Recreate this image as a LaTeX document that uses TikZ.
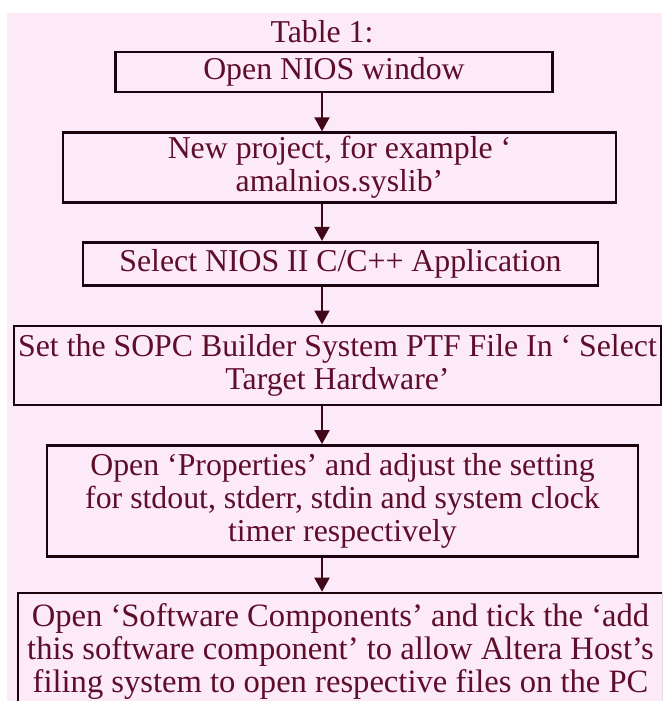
\documentclass[tikz,border=0pt]{standalone}
\usepackage{fontspec}
\setmainfont{Liberation Serif}
\usetikzlibrary{positioning}
\usetikzlibrary{arrows.meta}
\definecolor{bgpink}{RGB}{252,234,248}
\definecolor{boxline}{RGB}{28,4,14}
\definecolor{steptext}{RGB}{95,14,42}
\definecolor{flowarrow}{RGB}{65,6,24}

\begin{document}
\begin{tikzpicture}[x=1pt,y=1pt,
    B/.style={draw=boxline, line width=2.6pt, inner sep=0pt, align=center,
      text=steptext, font=\fontsize{31.8}{33}\selectfont},
    A/.style={-{Triangle[width=15pt,length=14pt]}, draw=flowarrow, fill=flowarrow, line width=2pt}]
  \useasboundingbox (0,0) rectangle (662,-701);
  \clip (0,0) rectangle (662,-701);
  \fill[white] (0,0) rectangle (662,-701);
  \fill[bgpink] (7,-13) rectangle (662,-701);

  \node[anchor=base, text=steptext, font=\fontsize{31.8}{33}\selectfont] (tbl) at (322,-43) {Table 1:};
  \node[B, minimum width=437pt, minimum height=40pt] (open) at (334,-72) {Open NIOS window};
  \node[B, minimum width=553pt, minimum height=70pt, below=38pt of open, xshift=5.5pt] (proj)
    {New project, for example ‘\\ amalnios.syslib’};
  \node[B, minimum width=515pt, minimum height=43pt, below=37pt of proj, xshift=1pt] (app)
    {Select NIOS II C/C++ Application};
  \node[B, minimum width=647pt, minimum height=79pt, below=38pt of app, xshift=-3pt] (ptf)
    {Set the SOPC Builder System PTF File In ‘ Select\\ Target Hardware’};
  \node[B, minimum width=591pt, minimum height=111pt, below=38pt of ptf, xshift=5pt] (prop)
    {Open ‘Properties’ and adjust the setting\\ for stdout, stderr, stdin and system clock\\ timer respectively};
  \node[B, font=\fontsize{32.6}{33}\selectfont, minimum width=645pt, minimum height=118pt,
    below=34pt of prop, xshift=-2pt] (soft)
    {Open ‘Software Components’ and tick the ‘add\\ this software component’ to allow Altera Host’s\\ filing system to open respective files on the PC};

  \draw[A] (open.south -| tbl) -- (proj.north -| tbl);
  \draw[A] (proj.south -| tbl) -- (app.north -| tbl);
  \draw[A] (app.south -| tbl) -- (ptf.north -| tbl);
  \draw[A] (ptf.south -| tbl) -- (prop.north -| tbl);
  \draw[A] (prop.south -| tbl) -- (soft.north -| tbl);
\end{tikzpicture}
\end{document}
